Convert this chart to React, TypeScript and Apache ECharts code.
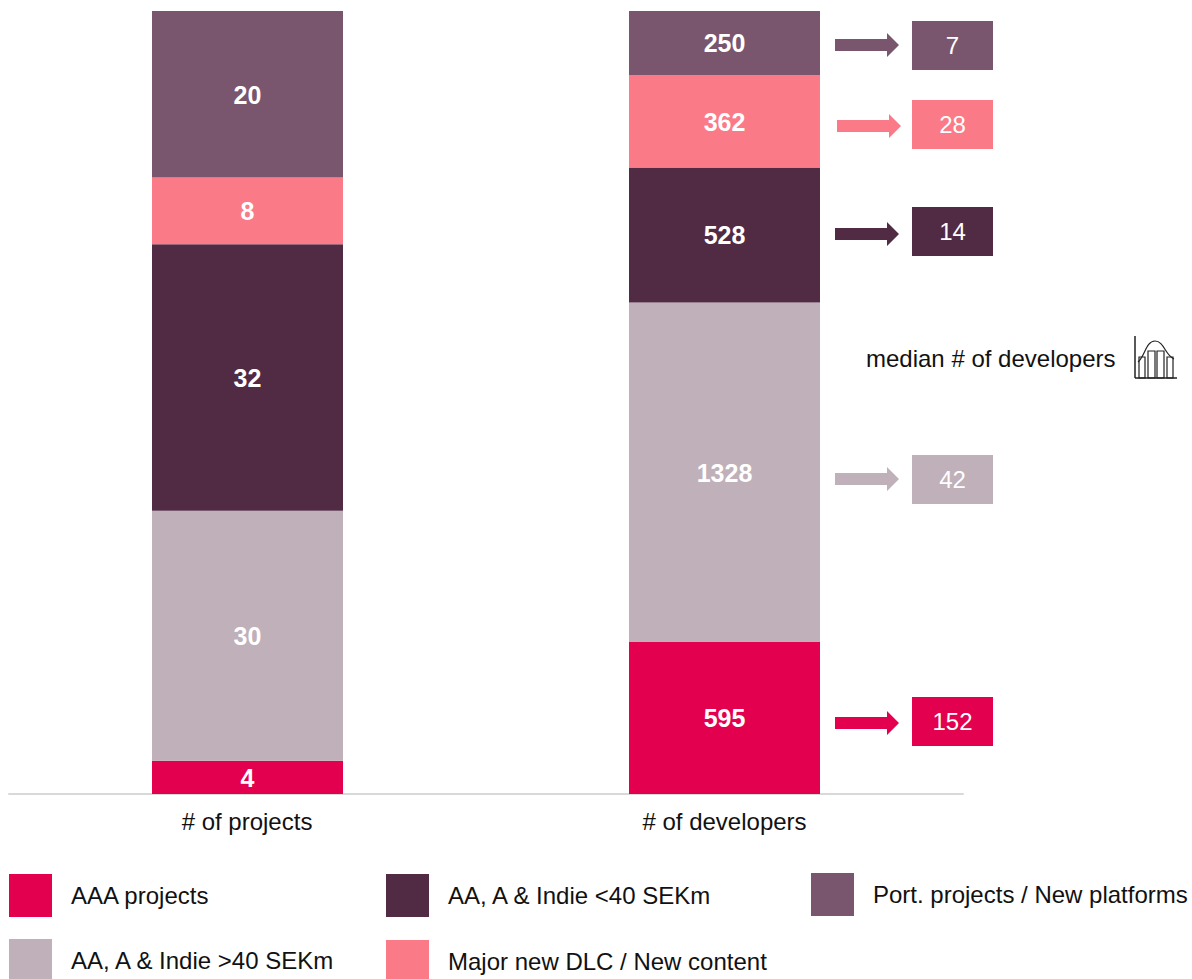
import React, { useEffect, useRef } from "react";
import * as echarts from "echarts";

const FONT = '"Liberation Sans", Arial, sans-serif';

const segmentNames = [
  "AAA projects",
  "AA, A & Indie >40 SEKm",
  "AA, A & Indie <40 SEKm",
  "Major new DLC / New content",
  "Port. projects / New platforms",
];
const segmentColors = ["#E3004F", "#BFB0B9", "#512A44", "#FB7A87", "#7A556E"];
const projectCounts = [4, 30, 32, 8, 20];
const developerCounts = [595, 1328, 528, 362, 250];
const medianDevelopers = [152, 42, 14, 28, 7];
const axisCategories = ["# of projects", "# of developers"];

const sum = (values: number[]) => values.reduce((a, b) => a + b, 0);

// Vertical layout of the callout boxes and their arrows, listed in segment order.
const boxTops = [697, 455, 207, 100, 21];
const arrowMids = [723, 479, 234, 126, 45];
const arrowStarts = [835, 835, 835, 837, 835];

const legendSlots = [
  { left: 9, top: 874, textTop: 0 },
  { left: 9, top: 939, textTop: 0 },
  { left: 386, top: 874, textTop: 0 },
  { left: 386, top: 940, textTop: 0 },
  { left: 811, top: 873, textTop: 4 },
];

const barSeries = (values: number[], axisIndex: number, stack: string) =>
  values.map((value, i) => ({
    type: "bar",
    name: segmentNames[i],
    stack,
    xAxisIndex: axisIndex,
    yAxisIndex: axisIndex,
    barWidth: 191,
    data: [value],
    itemStyle: { color: segmentColors[i] },
    label: {
      show: true,
      position: "inside",
      offset: [0, 0.5],
      color: "#fff",
      fontFamily: FONT,
      fontWeight: "bold",
      fontSize: 25,
    },
  }));

const calloutBoxes = medianDevelopers.map((value, i) => ({
  type: "rect",
  shape: { x: 912, y: boxTops[i], width: 81, height: 49 },
  style: { fill: segmentColors[i] },
  textContent: {
    type: "text",
    style: { text: String(value), fill: "#fff", font: `24px ${FONT}` },
  },
  textConfig: { position: "inside" },
}));

const calloutArrows = arrowMids.map((mid, i) => {
  const start = arrowStarts[i];
  const end = start + 64;
  const neck = end - 12;
  return {
    type: "polygon",
    shape: {
      points: [
        [start, mid - 6],
        [neck, mid - 6],
        [neck, mid - 12],
        [end, mid],
        [neck, mid + 12],
        [neck, mid + 6],
        [start, mid + 6],
      ],
    },
    style: { fill: segmentColors[i] },
  };
});

// Small pictogram of a histogram under a bell curve.
const iconStroke = { stroke: "#222", lineWidth: 1.2, fill: "none" };
const iconBars = [
  [1139, 357, 6, 21],
  [1148, 351, 7, 27],
  [1157, 351, 7, 27],
  [1167, 357, 6, 21],
].map(([x, y, width, height]) => ({
  type: "rect",
  shape: { x, y, width, height },
  style: iconStroke,
}));
const medianIcon = [
  ...iconBars,
  { type: "line", shape: { x1: 1135, y1: 336, x2: 1135, y2: 378 }, style: { stroke: "#222", lineWidth: 1.5 } },
  { type: "line", shape: { x1: 1135, y1: 378, x2: 1177, y2: 378 }, style: { stroke: "#222", lineWidth: 1.5 } },
  {
    type: "bezierCurve",
    shape: { x1: 1138, y1: 362, cpx1: 1145, cpy1: 356, cpx2: 1146, cpy2: 341, x2: 1155, y2: 341 },
    style: iconStroke,
  },
  {
    type: "bezierCurve",
    shape: { x1: 1155, y1: 341, cpx1: 1164, cpy1: 341, cpx2: 1165, cpy2: 355, x2: 1174, y2: 359 },
    style: iconStroke,
  },
];

const categoryAxis = (label: string, gridIndex: number, rightPad: number) => ({
  type: "category",
  gridIndex,
  data: [label],
  axisTick: { show: false },
  axisLine: { lineStyle: { color: "#D9D9D9", width: 2 } },
  axisLabel: {
    color: "#111",
    fontFamily: FONT,
    fontSize: 24,
    margin: 15,
    padding: [0, rightPad, 0, 0],
  },
});

const valueAxis = (total: number, gridIndex: number) => ({
  type: "value",
  gridIndex,
  min: 0,
  max: total,
  show: false,
});

export default function App() {
  const ref = useRef<HTMLDivElement>(null);

  useEffect(() => {
    const chart = echarts.init(ref.current!, null, { renderer: "svg" });
    chart.setOption({
      animation: false,
      backgroundColor: "#fff",
      grid: [
        { left: 9, top: 11, width: 477, height: 783 },
        { left: 486, top: 11, width: 477, height: 783 },
      ],
      xAxis: [categoryAxis(axisCategories[0], 0, 1), categoryAxis(axisCategories[1], 1, 0)],
      yAxis: [valueAxis(sum(projectCounts), 0), valueAxis(sum(developerCounts), 1)],
      series: [
        ...barSeries(projectCounts, 0, "projects"),
        ...barSeries(developerCounts, 1, "developers"),
      ],
      legend: segmentNames.map((name, i) => ({
        data: [name],
        left: legendSlots[i].left,
        top: legendSlots[i].top,
        padding: 0,
        itemWidth: 43,
        itemHeight: 43,
        icon: "rect",
        selectedMode: false,
        textStyle: {
          color: "#111",
          fontFamily: FONT,
          fontSize: 24,
          padding: [legendSlots[i].textTop, 0, 0, 14],
        },
      })),
      graphic: [
        ...calloutArrows,
        ...calloutBoxes,
        {
          type: "text",
          x: 866,
          y: 358,
          style: {
            text: "median # of developers",
            fill: "#111",
            font: `24px ${FONT}`,
            verticalAlign: "middle",
          },
        },
        ...medianIcon,
      ],
    });
    return () => chart.dispose();
  }, []);

  return (
    <div
      ref={ref}
      style={{ position: "fixed", left: 0, top: 0, width: 1192, height: 979 }}
    />
  );
}
